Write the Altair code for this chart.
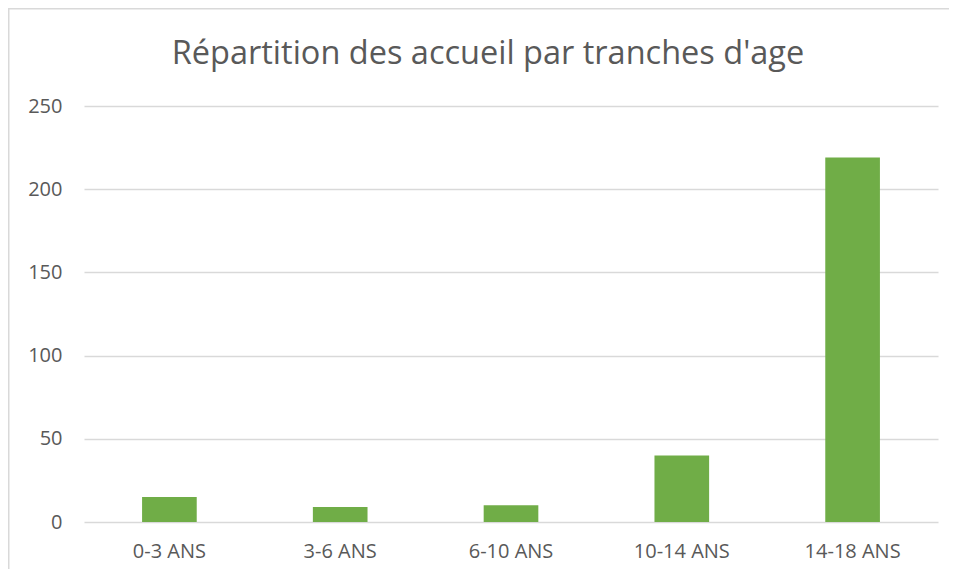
import altair as alt
import pandas as pd

categories = ["0-3 ANS", "3-6 ANS", "6-10 ANS", "10-14 ANS", "14-18 ANS"]
values = [15, 9, 10, 40, 219]
y_ticks = [0, 50, 100, 150, 200, 250]
title_text = "Répartition des accueil par tranches d'age"

df = pd.DataFrame({"cat": categories, "val": values})

W, H = 854, 416
PAD = {"left": 76, "top": 98, "right": 11, "bottom": 47}

bars = alt.Chart(df).mark_bar(color="#70ad47").encode(
    x=alt.X("cat:N", sort=categories, title=None,
            scale=alt.Scale(paddingInner=0.68, paddingOuter=0.34),
            axis=alt.Axis(labelAngle=0, labelFont="Open Sans", labelFontSize=20,
                          labelColor="#595959", labelPadding=19, ticks=False,
                          domain=False, grid=False)),
    y=alt.Y("val:Q", title=None,
            scale=alt.Scale(domain=[0, 250], nice=False),
            axis=alt.Axis(values=y_ticks, labelFont="Open Sans", labelFontSize=20,
                          labelColor="#595959", labelPadding=22, ticks=False,
                          domain=False, gridColor="#d9d9d9", gridWidth=1.3)),
)

border = alt.Chart(pd.DataFrame({"a": [0]})).mark_rect(
    fill=None, stroke="#d9d9d9", strokeWidth=1.5, clip=False
).encode(
    x=alt.value(-PAD["left"] + 0.75), x2=alt.value(W + 60),
    y=alt.value(-PAD["top"] + 0.75), y2=alt.value(H + 80),
)

title = alt.Chart(pd.DataFrame({"t": [title_text]})).mark_text(
    font="Open Sans", fontSize=32.5, color="#595959", align="center",
    baseline="middle", clip=False
).encode(
    text="t:N", x=alt.value(W / 2 - 23), y=alt.value(-52),
)

chart = alt.layer(border, bars, title).properties(
    width=W, height=H,
    padding=PAD,
    autosize=alt.AutoSizeParams(type="none"),
).configure(background="white").configure_view(stroke=None)

chart.save("out.html", embed_options={"renderer": "svg", "actions": False})
